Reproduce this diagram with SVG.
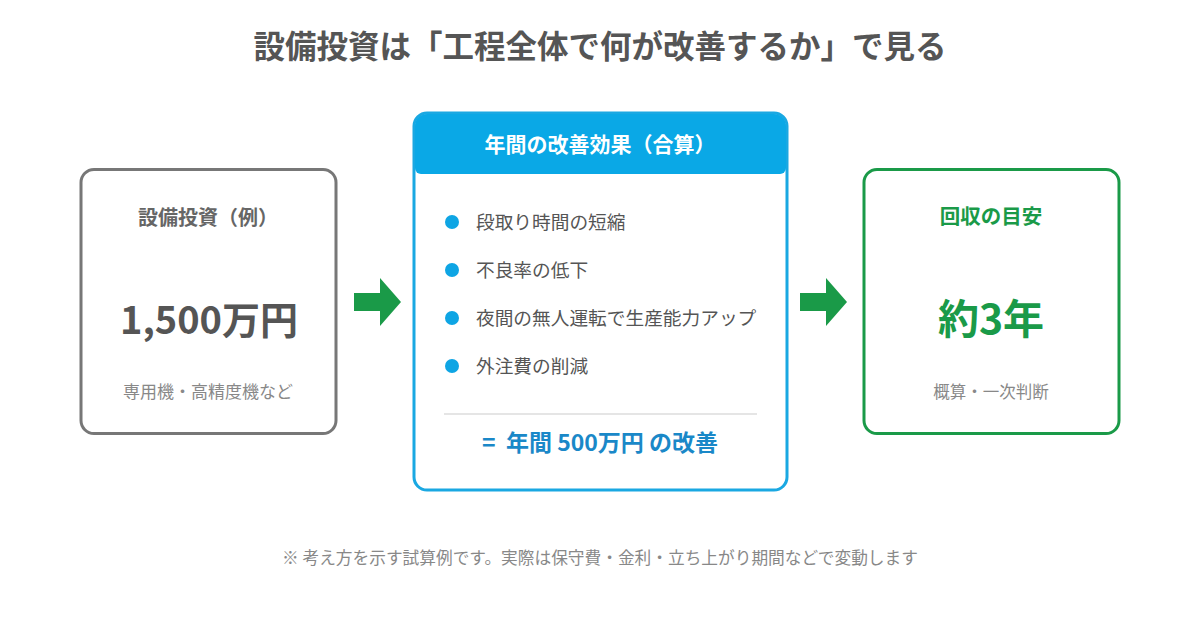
<svg xmlns="http://www.w3.org/2000/svg" width="1200" height="630" viewBox="0 0 1200 630">
<style>
text{font-family:"Noto Sans CJK JP","Noto Sans",sans-serif;text-anchor:middle}
.b{font-weight:700}
.sub{fill:#888}
.item{font-size:18.7px;fill:#555;text-anchor:start}
.dot{fill:#0ea5e4}
.arr{fill:#1a9a48}
</style>
<rect width="1200" height="630" fill="#fff"/>
<text x="600" y="58" class="b" font-size="31.5" fill="#555">設備投資は「工程全体で何が改善するか」で見る</text>
<g id="invest">
<rect x="81" y="169.5" width="255" height="264" rx="13" fill="#fff" stroke="#777" stroke-width="3"/>
<text x="208" y="225" class="b" font-size="20" fill="#666">設備投資（例）</text>
<text x="209" y="334" class="b" font-size="38" fill="#555">1,500万円</text>
<text x="208" y="398" class="sub" font-size="17">専用機・高精度機など</text>
</g>
<g id="effect">
<rect x="414" y="113" width="373" height="377" rx="13" fill="#fff" stroke="#1aa8e2" stroke-width="3"/>
<path d="M415,126 a12,12 0 0 1 12,-12 h347 a12,12 0 0 1 12,12 v42 a6,6 0 0 1 -6,6 h-359 a6,6 0 0 1 -6,-6 z" fill="#0aa8e6"/>
<text x="600" y="152" class="b" font-size="21" fill="#fff">年間の改善効果（合算）</text>
<circle class="dot" cx="452" cy="222" r="7"/>
<text x="476" y="229" class="item">段取り時間の短縮</text>
<circle class="dot" cx="452" cy="270" r="7"/>
<text x="476" y="277" class="item">不良率の低下</text>
<circle class="dot" cx="452" cy="318" r="7"/>
<text x="476" y="325" class="item">夜間の無人運転で生産能力アップ</text>
<circle class="dot" cx="452" cy="366" r="7"/>
<text x="476" y="373" class="item">外注費の削減</text>
<line x1="444" y1="414" x2="757" y2="414" stroke="#ddd" stroke-width="1.5"/>
<text x="600" y="451" class="b" font-size="23" fill="#1a88c8" xml:space="preserve">=  年間 500万円 の改善</text>
</g>
<g id="payback">
<rect x="864" y="169.5" width="255" height="264" rx="13" fill="#fff" stroke="#1a9a48" stroke-width="3"/>
<text x="991" y="224" class="b" font-size="20.5" fill="#1a9a48">回収の目安</text>
<text x="991" y="334" class="b" font-size="41" fill="#1a9a48">約3年</text>
<text x="991" y="398" class="sub" font-size="16.5">概算・一次判断</text>
</g>
<g id="connectors">
<path class="arr" d="M354,293 h26 v-15 l21,24 l-21,24 v-15 h-26 z"/>
<path class="arr" d="M800,293 h26 v-15 l21,24 l-21,24 v-15 h-26 z"/>
</g>
<text x="600" y="564" class="sub" font-size="16.7">※ 考え方を示す試算例です。実際は保守費・金利・立ち上がり期間などで変動します</text>
</svg>
